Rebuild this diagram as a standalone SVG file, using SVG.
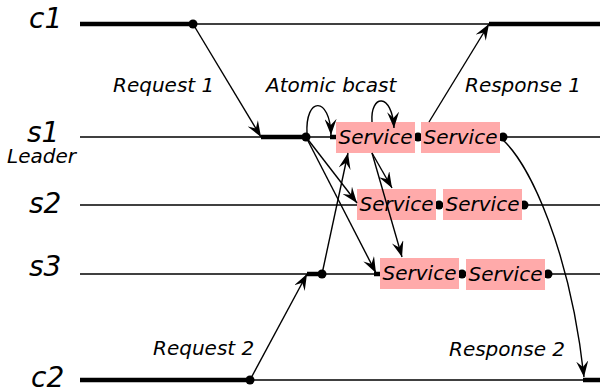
<svg xmlns="http://www.w3.org/2000/svg" width="600" height="387" viewBox="0 0 600 387">
  <defs>
    <marker id="arrow" viewBox="0 0 16 12" refX="16" refY="6" markerWidth="16" markerHeight="12" markerUnits="userSpaceOnUse" orient="auto">
      <path d="M0,0 L16,6 L0,12 L6,6 z" fill="#000"/>
    </marker>
    <style>
      text { font-family: "DejaVu Sans", "Liberation Sans", sans-serif; font-style: italic; fill: #000; }
      .proc { font-size: 28px; }
      .lbl { font-size: 20px; }
      .thin { stroke: #000; stroke-width: 1.4; fill: none; }
      .thick { stroke: #000; stroke-width: 4.5; fill: none; }
      .dot { fill: #000; }
      .box { fill: #ffaaaa; }
      .svc { font-size: 20px; text-anchor: middle; }
      .msg { stroke: #000; stroke-width: 1.4; fill: none; marker-end: url(#arrow); }
    </style>
  </defs>

  <!-- process timelines -->
  <g id="c1">
    <text class="proc" x="29" y="28">c1</text>
    <line class="thin" x1="193" y1="24" x2="489" y2="24"/>
    <line class="thick" x1="80" y1="24" x2="193" y2="24"/>
    <line class="thick" x1="489" y1="24" x2="600" y2="24"/>
    <circle class="dot" cx="193" cy="24" r="4.5"/>
  </g>

  <g id="s1">
    <text class="proc" x="27" y="142">s1</text>
    <text class="lbl" x="7" y="163">Leader</text>
    <line class="thin" x1="80" y1="137" x2="600" y2="137"/>
    <line class="thick" x1="261" y1="137" x2="306" y2="137"/>
    <line class="thick" x1="330" y1="137" x2="337" y2="137"/>
    <circle class="dot" cx="306" cy="137" r="4.5"/>
    <circle class="dot" cx="418" cy="137" r="4.5"/>
    <circle class="dot" cx="503" cy="137" r="4.5"/>
    <rect class="box" x="336" y="122" width="79" height="31"/>
    <text class="svc" x="375.5" y="144">Service</text>
    <rect class="box" x="421" y="122" width="79" height="31"/>
    <text class="svc" x="460.5" y="144">Service</text>
  </g>

  <g id="s2">
    <text class="proc" x="29" y="213">s2</text>
    <line class="thin" x1="80" y1="205" x2="600" y2="205"/>
    <circle class="dot" cx="439" cy="205" r="4.5"/>
    <circle class="dot" cx="524" cy="205" r="4.5"/>
    <rect class="box" x="357" y="189" width="79" height="31"/>
    <text class="svc" x="396.5" y="211">Service</text>
    <rect class="box" x="443" y="189" width="79" height="31"/>
    <text class="svc" x="482.5" y="211">Service</text>
  </g>

  <g id="s3">
    <text class="proc" x="29" y="276">s3</text>
    <line class="thin" x1="80" y1="274" x2="600" y2="274"/>
    <line class="thick" x1="307" y1="274" x2="322" y2="274"/>
    <line class="thick" x1="374" y1="274" x2="381" y2="274"/>
    <circle class="dot" cx="322" cy="274" r="4.5"/>
    <circle class="dot" cx="462" cy="274" r="4.5"/>
    <circle class="dot" cx="548" cy="274" r="4.5"/>
    <rect class="box" x="380" y="258" width="79" height="31"/>
    <text class="svc" x="419.5" y="280">Service</text>
    <rect class="box" x="466" y="259" width="79" height="31"/>
    <text class="svc" x="505.5" y="281">Service</text>
  </g>

  <g id="c2">
    <text class="proc" x="31" y="387">c2</text>
    <line class="thin" x1="250" y1="380" x2="583" y2="380"/>
    <line class="thick" x1="80" y1="380" x2="250" y2="380"/>
    <line class="thick" x1="583" y1="380" x2="600" y2="380"/>
    <circle class="dot" cx="250" cy="380" r="4.5"/>
  </g>

  <!-- messages between processes -->
  <g id="connectors">
    <line class="msg" x1="193" y1="24" x2="261" y2="137"/>
    <line class="msg" x1="429" y1="122" x2="489" y2="24"/>
    <line class="msg" x1="250" y1="380" x2="307" y2="274"/>
    <line class="msg" x1="322" y1="274" x2="348" y2="153"/>
    <line class="msg" x1="306" y1="137" x2="357" y2="203"/>
    <line class="msg" x1="306" y1="137" x2="376" y2="273"/>
    <path class="msg" d="M307,134 C305,96 330,96 331,135"/>
    <path class="msg" d="M372,122 C370,94 392,92 394,128"/>
    <line class="msg" x1="372" y1="153" x2="392" y2="188"/>
    <line class="msg" x1="372" y1="153" x2="402" y2="257"/>
    <path class="msg" d="M503,140 C530,165 570,250 584,377"/>
  </g>

  <!-- message labels -->
  <g id="labels">
    <text class="lbl" x="113" y="92">Request 1</text>
    <text class="lbl" x="266" y="92">Atomic bcast</text>
    <text class="lbl" x="465" y="92">Response 1</text>
    <text class="lbl" x="153" y="355">Request 2</text>
    <text class="lbl" x="449" y="356">Response 2</text>
  </g>
</svg>
